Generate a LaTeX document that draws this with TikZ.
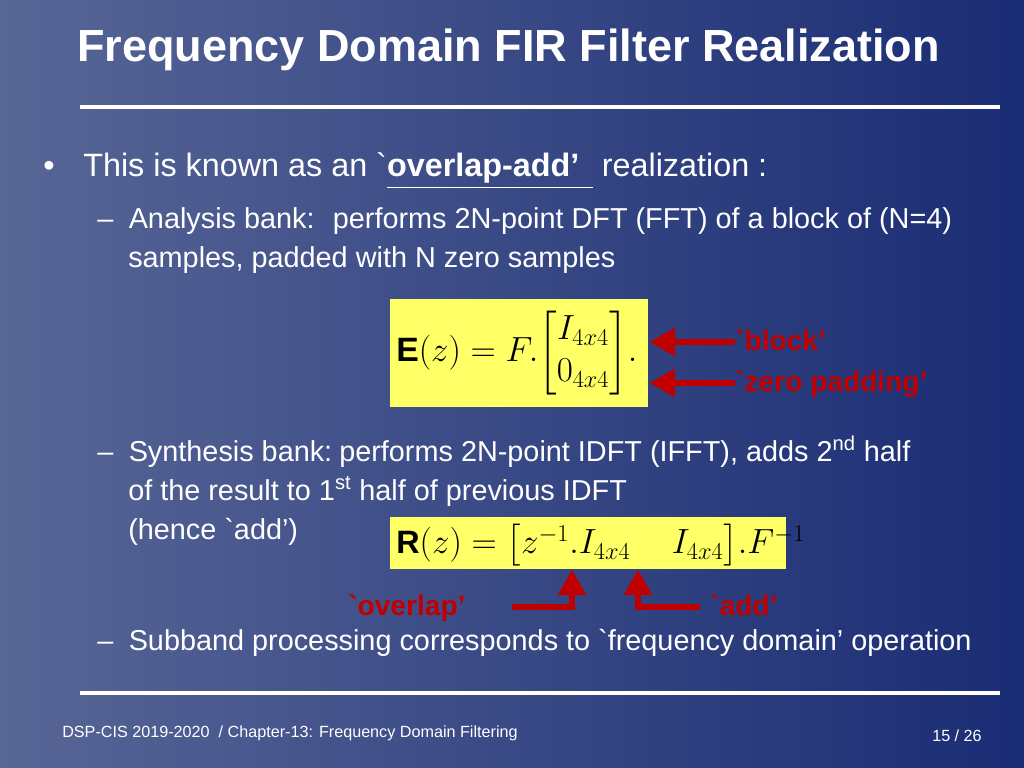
\documentclass[tikz,border=0pt]{standalone}
\usepackage{fontspec}
\usepackage{amsmath}
\setmainfont{Liberation Sans}
\usepackage{tikz}
\usetikzlibrary{arrows,calc,positioning}
\definecolor{fondoClaro}{RGB}{88,102,150}
\definecolor{fondoOscuro}{RGB}{26,44,116}
\definecolor{amarillo}{RGB}{255,255,102}
\definecolor{rojo}{RGB}{192,0,0}
\newcommand{\acento}{\textasciigrave}
\tikzstyle{texto}=[anchor=base west, text=white, inner sep=0pt, font=\fontsize{20.5}{24}\selectfont]
\tikzstyle{rtexto}=[anchor=base west, text=rojo, inner sep=0pt, font=\fontsize{20}{24}\selectfont\bfseries]
\tikzstyle{flecha}=[rojo, line width=4pt, -triangle 60]
\begin{document}
\begin{tikzpicture}[x=0.025cm,y=-0.025cm]
    \useasboundingbox (0,0) rectangle (1024,768);
    \shade[left color=fondoClaro, right color=fondoOscuro] (0,0) rectangle (1024,768);

    % titulo y lineas
    \node (titulo) [texto, font=\fontsize{32}{36}\selectfont\bfseries] at (77,62) {Frequency Domain FIR Filter Realization};
    \coordinate (l1a) at (80,107); \coordinate (l1b) at (1000,107);
    \coordinate (l2a) at (80,693); \coordinate (l2b) at (1000,693);
    \draw [white, line width=3pt] (l1a) -- (l1b);
    \draw [white, line width=3pt] (l2a) -- (l2b);

    % texto
    \node (bala) [texto, font=\fontsize{23}{26}\selectfont] at (43,176) {\textbullet};
    \node (t1) [texto, font=\fontsize{23}{26}\selectfont] at (83,176)
        {This is known as an \acento\underline{\textbf{overlap-add\rlap{’}}\hspace{16pt}} realization :};
    \node (t2) [texto] at (97,228) {–\hspace{11pt}Analysis bank:\hspace{13pt}performs 2N-point DFT (FFT) of a block of (N=4)};
    \node (t3) [texto] at (128,267) {samples, padded with N zero samples};
    \node (t4) [texto] at (97,461) {–\hspace{11pt}Synthesis bank:\hspace{5pt}performs 2N-point IDFT (IFFT), adds 2\textsuperscript{nd} half};
    \node (t5) [texto] at (128,500) {of the result to 1\textsuperscript{st} half of previous IDFT};
    \node (t6) [texto] at (128,539) {(hence \acento add’)};
    \node (t7) [texto] at (97,650) {–\hspace{11pt}Subband processing corresponds to \acento frequency domain’ operation};

    % cajas amarillas
    \fill [amarillo] (390,299) rectangle (648,407);
    \fill [amarillo] (390,517) rectangle (786,569);
    \node (E) [anchor=west, inner sep=0pt, font=\fontsize{24}{28}\selectfont] at (396,353)
        {$\mathbf{E}(z)=F.\!\left[\begin{matrix} I_{4x4}\\[2pt] 0_{4x4}\end{matrix}\right]\!.$};
    \node (R) [anchor=west, inner sep=0pt, font=\fontsize{23}{26}\selectfont] at (396,545)
        {$\mathbf{R}(z)=\bigl[z^{-1}.I_{4x4}\quad\ I_{4x4}\bigr].F^{-1}$};

    % etiquetas rojas
    \node (block) [rtexto] at (735,350) {\acento block’};
    \node (zero) [rtexto] at (735,391) {\acento zero padding’};
    \node (overlap) [rtexto] at (348,615) {\acento overlap’};
    \node (add) [rtexto] at (710,615) {\acento add’};
    \coordinate (bl) at (650,342); \coordinate (ze) at (650,383);
    \coordinate (ov) at (572,570); \coordinate (ad) at (638,570);

    \draw [flecha] (block.west |- bl) -- (bl);
    \draw [flecha] (zero.west |- ze) -- (ze);
    \draw [flecha] (512,607) -| (ov);
    \draw [flecha] (700,607) -| (ad);

    % pie
    \node (pie) [texto, font=\fontsize{11.5}{13}\selectfont] at (62,737) {DSP-CIS 2019-2020\ \ / Chapter-13: Frequency Domain Filtering};
    \node (pag) [texto, anchor=base east, font=\fontsize{11.5}{13}\selectfont] at (982,741) {15 / 26};
\end{tikzpicture}
\end{document}
